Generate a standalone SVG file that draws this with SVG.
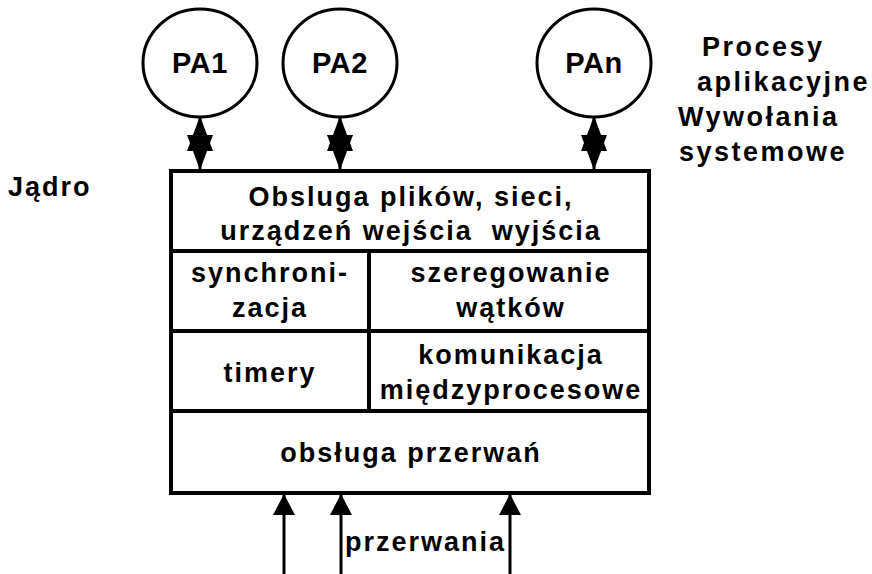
<svg xmlns="http://www.w3.org/2000/svg" width="872" height="574" viewBox="0 0 872 574">
  <style>
    .t { font-family: "Liberation Sans", Arial, sans-serif; font-weight: bold; font-size: 27px; letter-spacing: 2px; fill: #000; white-space: pre; }
    .c { text-anchor: middle; }
    .pa { font-size: 29px; letter-spacing: 0.5px; }
    .side { letter-spacing: 2.5px; }
    .proc { fill: #fff; stroke: #000; stroke-width: 3; }
    .box { fill: #fff; stroke: #000; stroke-width: 4; }
    .sep { stroke: #000; stroke-width: 4; fill: none; }
    .link { stroke: #000; stroke-width: 3; fill: none; }
    .call { marker-start: url(#headBig); marker-end: url(#headBig); }
    .irq { marker-end: url(#headSmall); }
  </style>
  <defs>
    <marker id="headBig" viewBox="0 -13 35 26" refX="35" refY="0" markerWidth="35" markerHeight="26" markerUnits="userSpaceOnUse" orient="auto-start-reverse">
      <path d="M0,-13 L35,0 L0,13 Z" fill="#000"/>
    </marker>
    <marker id="headSmall" viewBox="0 -11 21 22" refX="21" refY="0" markerWidth="21" markerHeight="22" markerUnits="userSpaceOnUse" orient="auto">
      <path d="M0,-11 L21,0 L0,11 Z" fill="#000"/>
    </marker>
  </defs>

  <rect width="872" height="574" fill="#fff"/>

  <!-- application processes -->
  <g id="pa1">
    <ellipse class="proc" cx="200" cy="63" rx="57" ry="54"/>
    <text class="t c pa" x="200" y="73">PA1</text>
  </g>
  <g id="pa2">
    <ellipse class="proc" cx="340" cy="63" rx="57" ry="54"/>
    <text class="t c pa" x="340" y="73">PA2</text>
  </g>
  <g id="pan">
    <ellipse class="proc" cx="594" cy="63" rx="57" ry="54"/>
    <text class="t c pa" x="594" y="73">PAn</text>
  </g>

  <!-- side labels -->
  <g id="labels">
    <text class="t" x="8" y="196">Jądro</text>
    <text class="t side" x="702" y="56">Procesy</text>
    <text class="t side" x="697" y="91">aplikacyjne</text>
    <text class="t side" x="678" y="126">Wywołania</text>
    <text class="t side" x="679" y="161">systemowe</text>
  </g>

  <!-- kernel block -->
  <g id="kernel">
    <rect class="box" x="171" y="171" width="478" height="322"/>
    <line class="sep" x1="171" y1="251" x2="649" y2="251"/>
    <line class="sep" x1="171" y1="331" x2="649" y2="331"/>
    <line class="sep" x1="171" y1="411" x2="649" y2="411"/>
    <line class="sep" x1="369" y1="251" x2="369" y2="411"/>
  </g>
  <g id="io">
    <text class="t c" x="411" y="206">Obsluga plików, sieci,</text>
    <text class="t c" x="411" y="240">urządzeń wejścia  wyjścia</text>
  </g>
  <g id="sync">
    <text class="t c" x="270" y="282">synchroni-</text>
    <text class="t c" x="270" y="317">zacja</text>
  </g>
  <g id="sched">
    <text class="t c" x="511" y="282">szeregowanie</text>
    <text class="t c" x="511" y="317">wątków</text>
  </g>
  <g id="timers">
    <text class="t c" x="270" y="382">timery</text>
  </g>
  <g id="ipc">
    <text class="t c" x="511" y="364">komunikacja</text>
    <text class="t c" x="511" y="399">międzyprocesowe</text>
  </g>
  <g id="irq">
    <text class="t c" x="411" y="462">obsługa przerwań</text>
  </g>

  <!-- connectors -->
  <g id="connectors">
    <line class="link call" x1="200" y1="116" x2="200" y2="170"/>
    <line class="link call" x1="340" y1="116" x2="340" y2="170"/>
    <line class="link call" x1="594" y1="116" x2="594" y2="170"/>
    <line class="link irq" x1="284" y1="574" x2="284" y2="494"/>
    <line class="link irq" x1="341" y1="574" x2="341" y2="494"/>
    <line class="link irq" x1="510" y1="574" x2="510" y2="494"/>
    <text class="t" x="345" y="551">przerwania</text>
  </g>
</svg>
